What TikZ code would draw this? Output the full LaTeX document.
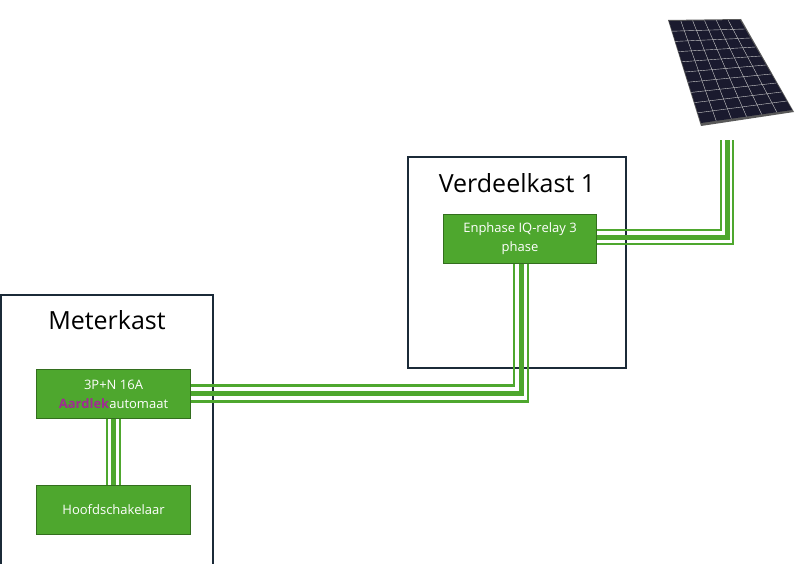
\documentclass[tikz,border=0pt]{standalone}
\usepackage{fontspec}
\setmainfont{Open Sans}
\usetikzlibrary{calc}
\definecolor{gr}{HTML}{4EA72E}
\definecolor{grd}{HTML}{336E1E}
\definecolor{navy}{HTML}{1B2A38}
\definecolor{aard}{HTML}{A02B93}
\definecolor{panel}{HTML}{1A1A2E}
\tikzset{
 kast/.style={draw=navy,line width=2pt},
 dev/.style={draw=grd,fill=gr,line width=1.8pt,text=white,font=\fontsize{13}{19}\selectfont,align=center,inner sep=1pt},
 thin/.style={draw=gr,line width=2.5pt},
 thick/.style={draw=gr,line width=5pt},
 ttl/.style={font=\fontsize{25}{30}\selectfont}
}
\begin{document}
\begin{tikzpicture}[x=1pt,y=-1pt]
\useasboundingbox (0,0) rectangle (800,564);
% boxes
\draw[kast] (1,295) rectangle (213,566);
\node[ttl] (tm) at (107,320) {Meterkast};
\draw[kast] (408,157) rectangle (626,368);
\node[ttl] (tv) at (517,183) {Verdeelkast 1};
% cables
\coordinate (a1) at (191,385.5); \coordinate (a2) at (191,393.5); \coordinate (a3) at (191,401.5);
\draw[thin] (a1) -| (514,264);
\draw[thick] (a2) -| (521,264);
\draw[thin] (a3) -| (528,264);
\draw[thin] (597,230) -| (721,140);
\draw[thick] (597,237) -| (727,140);
\draw[thin] (597,244) -| (733,140);
\draw[thin] (107,419) -- (107,485);
\draw[thick] (113.5,419) -- (113.5,485);
\draw[thin] (120,419) -- (120,485);
% devices
\node[dev,minimum width=154pt,minimum height=49pt] (aut) at (113.5,394) {3P+N 16A\\\textcolor{aard}{\textbf{Aardlek}}automaat};
\node[dev,minimum width=154pt,minimum height=49pt] (hs) at (113.5,510) {Hoofdschakelaar};
\node[dev,minimum width=153pt,minimum height=49pt] (en) at (520,239) {Enphase IQ-relay 3\\phase};
% solar panel
\coordinate (p1) at (669,21); \coordinate (p2) at (740,20);
\coordinate (p3) at (792,110); \coordinate (p4) at (701,123);
\fill[gray!70!black] ($(p1)+(-1,-1)$) -- ($(p2)+(1,-1)$) -- ($(p3)+(2,2)$) -- ($(p4)+(0,3)$) -- cycle;
\fill[panel] (p1) -- (p2) -- (p3) -- (p4) -- cycle;
\foreach \i in {1,...,5}{
 \draw[white!60!gray,line width=0.4pt] ($(p1)!\i/6!(p2)$) -- ($(p4)!\i/6!(p3)$);}
\foreach \j in {1,...,9}{
 \draw[white!60!gray,line width=0.4pt] ($(p1)!\j/10!(p4)$) -- ($(p2)!\j/10!(p3)$);}
\end{tikzpicture}
\end{document}
